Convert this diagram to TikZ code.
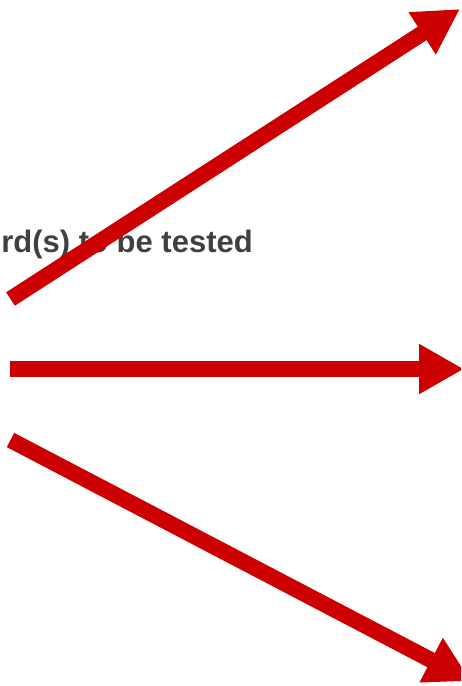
\documentclass[tikz,border=0pt]{standalone}
\usepackage{fontspec}
\setmainfont{Liberation Sans}
\usetikzlibrary{arrows.meta}
\definecolor{arrowred}{RGB}{204,0,0}
\definecolor{textgray}{RGB}{64,64,64}
\newcommand{\shadingr}{arrowred}
\tikzset{bigarrow/.style={draw=\shadingr, line width=16pt, -{Triangle[width=47pt,length=45pt]}}}

\begin{document}
\begin{tikzpicture}[x=1pt,y=-1pt]
\useasboundingbox (0,0) rectangle (461,686);
\clip (0,0) rectangle (461,686);
\node[anchor=base east, text=textgray, font=\fontsize{31}{31}\selectfont\bfseries, inner sep=0pt] (label) at (253,252) {rd(s) to be tested};
\coordinate (upfrom) at (10.5,299);
\coordinate (upto) at (460,9);
\coordinate (midfrom) at (10,369);
\coordinate (midto) at (464,369);
\coordinate (downfrom) at (10.5,440);
\coordinate (downto) at (471,681);
\draw[bigarrow] (upfrom) -- (upto);
\draw[bigarrow] (midfrom) -- (midto);
\draw[bigarrow] (downfrom) -- (downto);
\end{tikzpicture}
\end{document}
